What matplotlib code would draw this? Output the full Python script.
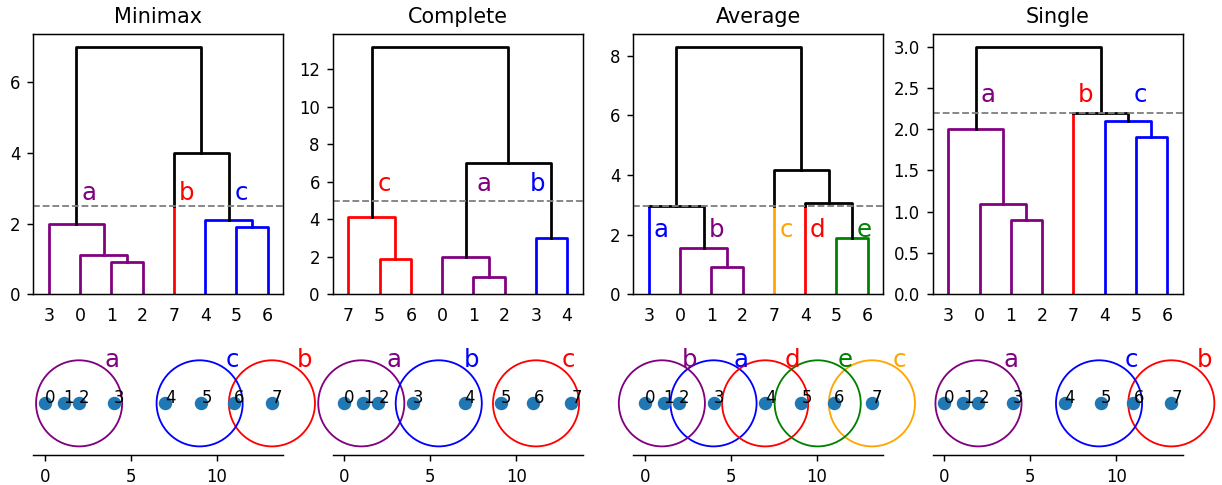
import matplotlib
matplotlib.use("Agg")
import matplotlib.pyplot as plt
from matplotlib.patches import Circle

# 1D positions of the eight points
points = [0, 1.1, 2, 4, 7, 9.1, 11, 13.2]

titles = ["Minimax", "Complete", "Average", "Single"]

# merges as (child, child, height); new nodes are numbered from 8 on
minimax_merges = [(1, 2, 0.9), (0, 8, 1.1), (3, 9, 2.0), (5, 6, 1.9),
                  (4, 11, 2.1), (7, 12, 4.0), (10, 13, 7.0)]
complete_merges = [(1, 2, 0.9), (5, 6, 1.9), (0, 8, 2.0), (3, 4, 3.0),
                   (7, 9, 4.1), (10, 11, 7.0), (12, 13, 13.2)]
average_merges = [(1, 2, 0.9), (0, 8, 1.55), (5, 6, 1.9), (3, 9, 2.97),
                  (4, 10, 3.05), (7, 12, 4.17), (11, 13, 8.3)]
single_merges = [(1, 2, 0.9), (0, 8, 1.1), (5, 6, 1.9), (3, 9, 2.0),
                 (4, 10, 2.1), (7, 12, 2.2), (11, 13, 3.0)]
all_merges = [minimax_merges, complete_merges, average_merges, single_merges]

cuts = [2.5, 5.0, 2.95, 2.2]

# clusters: (members, letter, colour)
minimax_clusters = [([0, 1, 2, 3], "a", "purple"), ([7], "b", "red"), ([4, 5, 6], "c", "blue")]
complete_clusters = [([0, 1, 2], "a", "purple"), ([3, 4], "b", "blue"), ([5, 6, 7], "c", "red")]
average_clusters = [([3], "a", "blue"), ([0, 1, 2], "b", "purple"), ([7], "c", "orange"),
                    ([4], "d", "red"), ([5, 6], "e", "green")]
single_clusters = [([0, 1, 2, 3], "a", "purple"), ([7], "b", "red"), ([4, 5, 6], "c", "blue")]
all_clusters = [minimax_clusters, complete_clusters, average_clusters, single_clusters]

radius = 2.5

# label placement tweaks
label_dx = [{}, {"a": 5.9, "b": -4.4}, {}, {}]
label_dy = [7, 9, -13, 9.5]          # points, relative to cut line
circle_label_dx = [1.9, 1.9, 1.6, 1.9]

W, H = 1222, 485
fig = plt.figure(figsize=(W / 132, H / 132), dpi=132)
lefts = [33.3, 332.7, 633.3, 932.7]

TICK = 9
LEAF = 9.5
TITLE = 11.3
LETTER = 13.3


def draw_dendro(ax, merges, clusters, cut, dxs, dy):
    n = len(points)
    children = {}
    height = {i: 0.0 for i in range(n)}
    for k, (a, b, h) in enumerate(merges):
        children[n + k] = (a, b)
        height[n + k] = h
    root = n + len(merges) - 1

    order = []

    def walk(node):
        if node < n:
            order.append(node)
        else:
            walk(children[node][0])
            walk(children[node][1])
    walk(root)

    xpos = {leaf: 5 + 10 * i for i, leaf in enumerate(order)}
    leaves = {i: {i} for i in range(n)}
    for node in sorted(children):
        a, b = children[node]
        xpos[node] = (xpos[a] + xpos[b]) / 2
        leaves[node] = leaves[a] | leaves[b]

    owner = {}
    for members, letter, col in clusters:
        for m in members:
            owner[m] = (set(members), col)

    def inside(node):
        mem, col = owner[next(iter(leaves[node]))]
        return col if leaves[node] <= mem else None

    for node in sorted(children):
        a, b = children[node]
        h = height[node]
        col = inside(node)
        if col is not None:
            ax.plot([xpos[a], xpos[a], xpos[b], xpos[b]],
                    [height[a], h, h, height[b]], color=col, lw=1.5)
            continue
        low = []
        for c in (a, b):
            if c < n and owner[c][0] == {c}:
                s = min(cut, h)
                ax.plot([xpos[c], xpos[c]], [0, s], color=owner[c][1], lw=1.5)
                low.append(s)
            else:
                low.append(height[c])
        ax.plot([xpos[a], xpos[a], xpos[b], xpos[b]],
                [low[0], h, h, low[1]], color="black", lw=1.5)

    ax.axhline(cut, color="gray", ls="--", lw=1)

    for members, letter, col in clusters:
        top = [nd for nd in leaves if leaves[nd] == set(members)][0]
        ax.annotate(letter, (xpos[top] + dxs.get(letter, 4.0), cut),
                    xytext=(0, dy), textcoords="offset points",
                    ha="center", va="center", color=col, fontsize=LETTER)

    ax.set_xticks([5 + 10 * i for i in range(n)])
    ax.set_xticklabels([str(l) for l in order])
    ax.tick_params(axis="x", bottom=False, labelsize=LEAF)
    ax.tick_params(axis="y", labelsize=TICK)
    ax.set_xlim(0, 10 * n)
    ax.set_ylim(0, height[root] * 1.05)


for i in range(4):
    ax = fig.add_axes([lefts[i] / W, (H - 294.3) / H, 250 / W, 260 / H])
    draw_dendro(ax, all_merges[i], all_clusters[i], cuts[i], label_dx[i], label_dy[i])
    ax.set_title(titles[i], fontsize=TITLE)

    # points on a line with cluster circles
    lo, hi = min(points), max(points)
    pad = 0.05 * (hi - lo)
    xr = (lo - pad, hi + pad)
    span = xr[1] - xr[0]
    ppu = 250 / span
    hgt = 6 * ppu
    bx = fig.add_axes([lefts[i] / W, 30 / H, 250 / W, hgt / H])
    bx.scatter(points, [0] * len(points), s=40, color="C0", zorder=3)
    for j, p in enumerate(points):
        bx.text(p, 0, str(j), fontsize=TICK)
    for members, letter, col in all_clusters[i]:
        xs = [points[m] for m in members]
        cx = (min(xs) + max(xs)) / 2
        bx.add_patch(Circle((cx, 0), radius, fill=False, edgecolor=col, lw=1, clip_on=False))
        bx.text(cx + circle_label_dx[i], radius, letter, color=col, fontsize=LETTER,
                ha="center", va="center", clip_on=False)
    bx.set_xlim(*xr)
    bx.set_ylim(-3, 3)
    for s in ["left", "top", "right"]:
        bx.spines[s].set_visible(False)
    bx.set_yticks([])
    bx.set_xticks([0, 5, 10])
    bx.tick_params(axis="x", labelsize=TICK)

fig.savefig("out.png", dpi=132)
